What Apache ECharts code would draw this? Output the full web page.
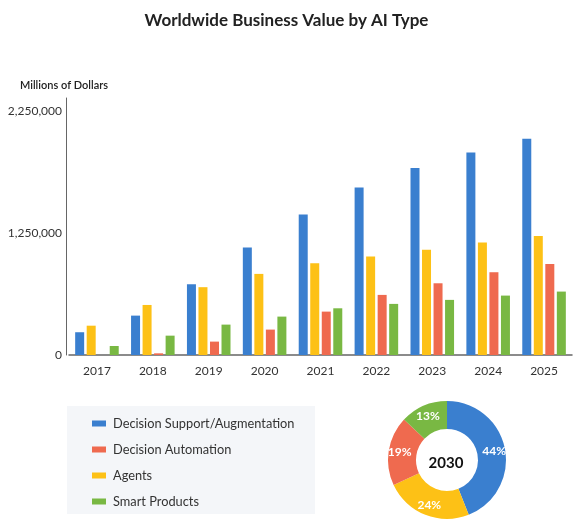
<!DOCTYPE html>
<html>
<head>
<meta charset="utf-8">
<script src="https://cdn.jsdelivr.net/npm/echarts@6/dist/echarts.min.js"></script>
<style>html,body{margin:0;padding:0;background:#fff}#c{width:573px;height:523px}</style>
</head>
<body>
<div id="c"></div>
<script>
var years = ['2017','2018','2019','2020','2021','2022','2023','2024','2025'];
var decisionSupport = [233000, 403000, 724000, 1100000, 1438000, 1715000, 1913000, 2073000, 2213000];
var agents = [300000, 512000, 694000, 830000, 939000, 1008000, 1076000, 1151000, 1219000];
var decisionAutomation = [0, 17000, 137000, 260000, 444000, 615000, 734000, 847000, 932000];
var smartProducts = [92000, 198000, 311000, 393000, 478000, 523000, 564000, 608000, 649000];
var yTickLabels = ['0', '1,250,000', '2,250,000'];
var share2030Names = ['Decision Support/Augmentation', 'Agents', 'Decision Automation', 'Smart Products'];
var share2030 = [44, 24, 19, 13];
var legendOrder = ['Decision Support/Augmentation', 'Decision Automation', 'Agents', 'Smart Products'];

var colors = {
  'Decision Support/Augmentation': '#3a7fcf',
  'Agents': '#fdc116',
  'Decision Automation': '#ef6a4f',
  'Smart Products': '#79b843'
};
var FONT = 'Lato, "Open Sans", sans-serif';

function barSeries(name, data) {
  return {
    name: name, type: 'bar', data: data, barWidth: 9, barGap: '28%',
    itemStyle: { color: colors[name] }
  };
}

var chart = echarts.init(document.getElementById('c'), null, { renderer: 'canvas' });
chart.setOption({
  animation: false,
  textStyle: { fontFamily: FONT },
  title: {
    text: 'Worldwide Business Value by AI Type',
    left: 'center', top: 7,
    textStyle: { fontFamily: FONT, fontSize: 17, fontWeight: 'bold', color: '#222' }
  },
  graphic: [
    { type: 'text', left: 20, top: 80,
      style: { text: 'Millions of Dollars', font: '600 11px ' + FONT, fill: '#222' } },
    { type: 'rect', left: 67, top: 406, shape: { width: 248, height: 108 },
      style: { fill: '#f4f6f9' }, z: -1 },
    { type: 'text', x: 446, y: 463, z: 100,
      style: { text: '2030', font: 'bold 15px ' + FONT, fill: '#111', align: 'center', verticalAlign: 'middle' } }
  ],
  legend: {
    data: legendOrder.map(function (n) { return { name: n, itemStyle: { color: colors[n] } }; }),
    orient: 'vertical', left: 92, top: 416, padding: 0,
    icon: 'rect', itemWidth: 14, itemHeight: 6, itemGap: 11,
    selectedMode: false,
    textStyle: { fontFamily: FONT, fontSize: 12.8, color: '#333', lineHeight: 15, padding: [0, 0, 0, 2] }
  },
  grid: { left: 69, right: 1, top: 98, bottom: 168 },
  xAxis: {
    type: 'category', data: years,
    axisLine: { lineStyle: { color: '#666', width: 1.5 } },
    axisTick: { show: false },
    axisLabel: { color: '#333', fontSize: 12, fontFamily: FONT, margin: 10 }
  },
  yAxis: {
    type: 'value', min: 0, max: 2630000, interval: 1250000, offset: 3,
    splitLine: { show: false },
    axisLine: { show: true, lineStyle: { color: '#666', width: 1 } },
    axisTick: { show: false },
    axisLabel: {
      color: '#333', fontSize: 12, fontFamily: FONT, margin: 4,
      showMaxLabel: false,
      formatter: function (v) {
        var i = Math.round(v / 1250000);
        return (v % 1250000 === 0 && i < yTickLabels.length) ? yTickLabels[i] : '';
      }
    }
  },
  series: [
    barSeries('Decision Support/Augmentation', decisionSupport),
    barSeries('Agents', agents),
    barSeries('Decision Automation', decisionAutomation),
    barSeries('Smart Products', smartProducts),
    {
      type: 'pie', center: [447, 460], radius: [31, 59],
      startAngle: 90, clockwise: true, silent: true,
      label: { position: 'inside', formatter: '{c}%', color: '#fff', fontWeight: 'bold', fontSize: 12, fontFamily: FONT },
      labelLine: { show: false },
      data: share2030Names.map(function (n, i) {
        return { name: n, value: share2030[i], itemStyle: { color: colors[n] } };
      })
    }
  ]
});
</script>
</body>
</html>
